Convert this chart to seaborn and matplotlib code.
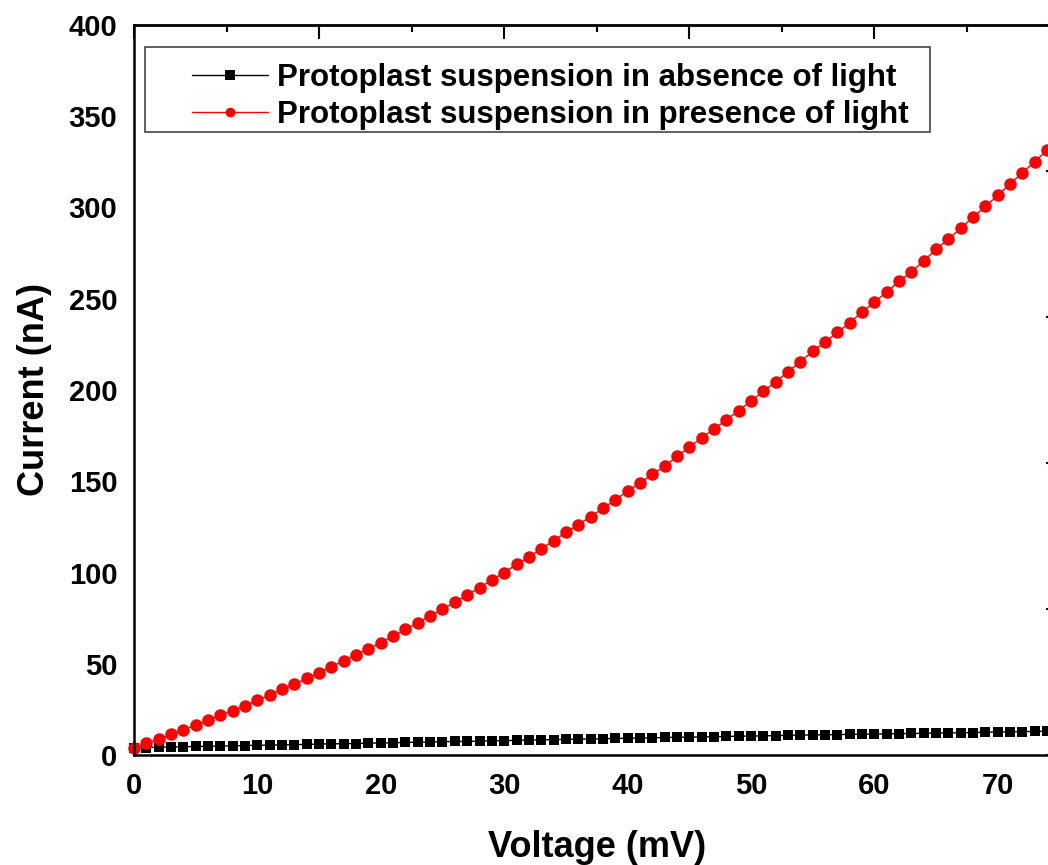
import matplotlib
matplotlib.use("Agg")
import matplotlib.pyplot as plt
from matplotlib.patches import Rectangle
import seaborn as sns
import numpy as np

# ---- data ----
voltage = list(range(0, 76))
dark_current = [
    4.0, 4.1, 4.3, 4.4, 4.5, 4.7, 4.8, 4.9, 5.0, 5.2,
    5.3, 5.4, 5.6, 5.7, 5.8, 6.0, 6.1, 6.2, 6.3, 6.5,
    6.6, 6.7, 6.9, 7.0, 7.1, 7.3, 7.4, 7.5, 7.6, 7.8,
    7.9, 8.0, 8.2, 8.3, 8.4, 8.6, 8.7, 8.8, 8.9, 9.1,
    9.2, 9.3, 9.4, 9.6, 9.7, 9.8, 9.9, 10.0, 10.2, 10.3,
    10.4, 10.5, 10.6, 10.8, 10.9, 11.0, 11.1, 11.2, 11.3, 11.4,
    11.5, 11.6, 11.7, 11.8, 11.9, 12.0, 12.1, 12.2, 12.3, 12.5,
    12.6, 12.7, 12.8, 12.9, 13.0, 13.1,
]
light_current = [
    3.7, 6.4, 8.6, 11.3, 13.9, 16.3, 19.0, 21.7, 24.3, 27.0,
    30.0, 32.9, 36.0, 38.7, 42.0, 45.1, 48.4, 51.7, 54.8, 58.1,
    61.5, 65.0, 68.9, 72.5, 76.2, 79.8, 83.8, 87.7, 91.7, 95.9,
    100.0, 104.5, 108.5, 113.0, 117.4, 122.0, 126.2, 130.6, 135.2, 139.7,
    144.7, 149.0, 153.8, 158.2, 163.7, 168.6, 173.9, 178.6, 183.7, 188.7,
    194.0, 199.3, 204.5, 210.0, 215.5, 221.2, 226.3, 231.6, 236.9, 242.7,
    248.2, 253.7, 259.6, 264.8, 270.7, 277.1, 282.7, 288.6, 294.8, 300.6,
    306.7, 313.0, 319.1, 325.1, 331.5, 337.8,
]
series_labels = ["Protoplast suspension in absence of light",
                 "Protoplast suspension in presence of light"]
x_ticks = [0, 10, 20, 30, 40, 50, 60, 70]
y_ticks = [0, 50, 100, 150, 200, 250, 300, 350, 400]

# ---- style ----
sns.set_style("white")
plt.rcParams["font.family"] = ["Liberation Sans", "DejaVu Sans"]
plt.rcParams["font.weight"] = "bold"
plt.rcParams["axes.labelweight"] = "bold"
plt.rcParams["text.color"] = "black"
plt.rcParams["axes.labelcolor"] = "black"
plt.rcParams["xtick.color"] = "black"
plt.rcParams["ytick.color"] = "black"

fig = plt.figure(figsize=(10.48, 8.65), dpi=100)
W, H = 1048, 865
left_px, right_px, top_px, bottom_px = 134, 1059.5, 25, 755
ax = fig.add_axes([left_px / W, 1 - bottom_px / H,
                   (right_px - left_px) / W, (bottom_px - top_px) / H])

sns.lineplot(x=voltage, y=dark_current, ax=ax, color="black", linewidth=1.0,
             marker="s", markersize=7, markeredgewidth=0, markerfacecolor="black",
             label=series_labels[0], clip_on=False)
sns.lineplot(x=voltage, y=light_current, ax=ax, color="#ff0000", linewidth=1.0,
             marker="o", markersize=9, markeredgewidth=0, markerfacecolor="#ff0000",
             label=series_labels[1], clip_on=False)

ax.set_xlim(0, 75)
ax.set_ylim(0, 400)
ax.set_xticks(x_ticks)
ax.set_yticks(y_ticks)
ax.set_xticks(np.arange(5, 75, 10), minor=True)
ax.set_yticks(np.arange(25, 400, 50), minor=True)
ax.tick_params(axis="both", which="major", direction="in", length=10, width=1.5,
               labelsize=21, color="black", labelcolor="black", pad=12)
ax.tick_params(axis="both", which="minor", direction="in", length=5, width=1.5,
               color="black")
for lbl in ax.get_xticklabels() + ax.get_yticklabels():
    lbl.set_fontweight("bold")

ax.set_xlabel("Voltage (mV)", fontsize=26, fontweight="bold", labelpad=22, color="black")
ax.set_ylabel("Current (nA)", fontsize=26, fontweight="bold", labelpad=12, color="black")

for s in ax.spines.values():
    s.set_linewidth(1.8)
    s.set_color("black")
    s.set_visible(True)

# top & right axes with their own tick spacing, no labels
top = ax.secondary_xaxis("top")
top.set_xticks([0, 15, 30, 45, 60, 75])
top.set_xticks(np.arange(7.5, 75, 15), minor=True)
top.set_xticklabels([])
top.tick_params(which="major", direction="in", length=10, width=1.5, color="black")
top.tick_params(which="minor", direction="in", length=5, width=1.5, color="black")
top.spines["top"].set_linewidth(1.8)

right = ax.secondary_yaxis("right")
right.set_yticks([0, 80, 160, 240, 320, 400])
right.set_yticks(np.arange(40, 400, 80), minor=True)
right.set_yticklabels([])
right.tick_params(which="major", direction="in", length=10, width=1.5, color="black")
right.tick_params(which="minor", direction="in", length=5, width=1.5, color="black")
right.spines["right"].set_linewidth(1.8)

# legend box drawn as a rectangle in figure coords; legend itself frameless
box = Rectangle((145 / W, 1 - 132 / H), (930 - 145) / W, (132 - 47) / H,
                transform=fig.transFigure, facecolor="white",
                edgecolor="#444444", linewidth=1.2, zorder=4, clip_on=False)
ax.add_patch(box)
leg = ax.legend(loc="upper left", bbox_to_anchor=(192 / W, 1 - 63 / H),
                bbox_transform=fig.transFigure, fontsize=22.5, frameon=False,
                handlelength=2.43, handletextpad=0.29, borderpad=0,
                labelspacing=0.22, borderaxespad=0)
leg.set_zorder(6)
for t in leg.get_texts():
    t.set_fontweight("bold")
    t.set_color("black")
for h in leg.legend_handles:
    h.set_markersize(7)

fig.savefig("out.png", dpi=100)
